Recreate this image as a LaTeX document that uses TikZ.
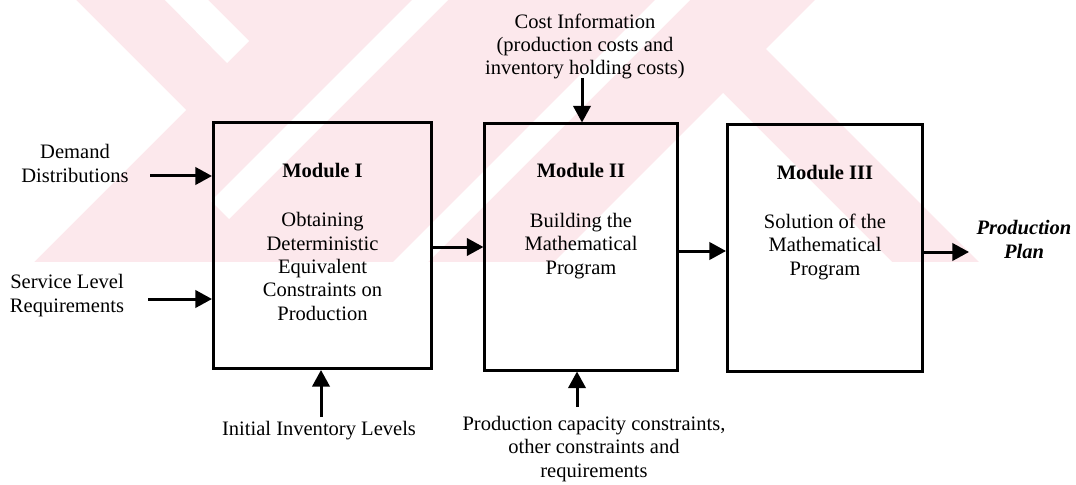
\documentclass[tikz,border=0pt]{standalone}
\usepackage{fontspec}
\setmainfont{Liberation Serif}
\usetikzlibrary{arrows.meta}
\definecolor{wmpink}{RGB}{252,232,236}

\begin{document}
\begin{tikzpicture}[x=0.75pt,y=-0.75pt,
  txt/.style={font=\fontsize{15.4pt}{17.5pt}\selectfont, align=center, inner sep=0pt, anchor=base},
  ttl/.style={txt, font=\fontsize{15.4pt}{17.5pt}\selectfont\bfseries},
  modbox/.style={draw=black, line width=2.25pt, inner sep=0pt, minimum height=184.5pt},
  flow/.style={draw=black, line width=2.25pt, -{Triangle[length=12.5pt,width=13pt]}},
]
\useasboundingbox (0,0) rectangle (1076,485);

% pale background pattern in the upper band
\fill[wmpink] (0,0) rectangle (1076,262);
\fill[white] (0,0) -- (76,0) -- (186,110) -- (34,262) -- (0,262) -- cycle;
\fill[white] (165,0) -- (208,0) -- (249,41) -- (227,63) -- cycle;
\fill[white] (412,0) -- (448,0) -- (229,219) -- (211,201) -- cycle;
\fill[white] (655,0) -- (690,0) -- (428,262) -- (393,262) -- cycle;
\fill[white] (815,0) -- (1076,0) -- (1076,262) -- (979,262) -- (766,49) -- cycle;
\fill[white] (723,93) -- (892,262) -- (554,262) -- cycle;

% module boxes
\node[modbox, minimum width=163.5pt] (m1) at (322.5,245.5) {};
\node[modbox, minimum width=144.4pt] (m2) at (581.2,247) {};
\node[modbox, minimum width=145.9pt] (m3) at (824.8,248) {};

% box contents (multi-line texts are placed by their last baseline)
\node[ttl] (m1t) at (322.5,177) {Module I};
\node[txt] (m1b) at (322.5,320) {Obtaining\\Deterministic\\Equivalent\\Constraints on\\Production};
\node[ttl] (m2t) at (581,178) {Module II};
\node[txt] (m2b) at (581,274) {Building the\\Mathematical\\Program};
\node[ttl] (m3t) at (825,180) {Module III};
\node[txt] (m3b) at (825,275) {Solution of the\\Mathematical\\Program};

% inputs and output
\node[txt] (dem) at (75,182) {Demand\\Distributions};
\node[txt] (svc) at (67,312) {Service Level\\Requirements};
\node[txt] (init) at (319,435) {Initial Inventory Levels};
\node[txt] (cost) at (585,75) {Cost Information\\(production costs and\\inventory holding costs)};
\node[txt] (cap) at (594,477) {Production capacity constraints,\\other constraints and\\requirements};
\node[txt, font=\fontsize{15.4pt}{17.5pt}\selectfont\bfseries\itshape] (plan) at (1024,258) {Production\\Plan};

% connector tails
\coordinate (tdem) at (150,176);
\coordinate (tsvc) at (148,299);
\coordinate (tinit) at (321,417);
\coordinate (tcost) at (582,78);
\coordinate (tcap) at (577,407);
\coordinate (r12) at (0,247);
\coordinate (r23) at (0,251);
\coordinate (r3o) at (0,252);
\coordinate (hout) at (969,252);

\draw[flow] (tdem) -- (tdem -| m1.west);
\draw[flow] (tsvc) -- (tsvc -| m1.west);
\draw[flow] (tinit) -- (tinit |- m1.south);
\draw[flow] (tcost) -- (tcost |- m2.north);
\draw[flow] (tcap) -- (tcap |- m2.south);
\draw[flow] (r12 -| m1.east) -- (r12 -| m2.west);
\draw[flow] (r23 -| m2.east) -- (r23 -| m3.west);
\draw[flow] (r3o -| m3.east) -- (hout);
\end{tikzpicture}
\end{document}
